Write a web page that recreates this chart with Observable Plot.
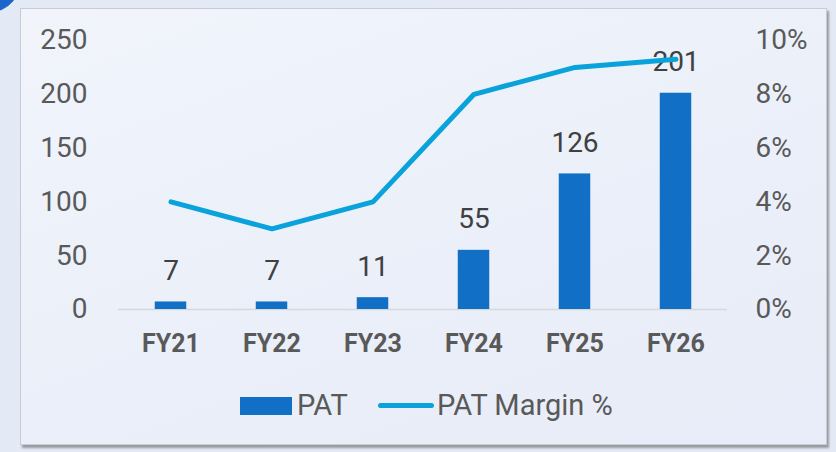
<!DOCTYPE html>
<html>
<head>
<meta charset="utf-8">
<script src="https://cdn.jsdelivr.net/npm/d3@7"></script>
<script src="https://cdn.jsdelivr.net/npm/@observablehq/plot@0.6"></script>
<style>
  html, body { margin: 0; padding: 0; }
  body { width: 836px; height: 452px; overflow: hidden; background: #e4eaf5; position: relative; font-family: Roboto, "Noto Sans", sans-serif; }
  #corner { position: absolute; left: -40px; top: -60px; width: 62px; height: 72px; border-radius: 50%; background: #1a66c9; }
  #box { position: absolute; left: 20px; top: 8px; width: 805px; height: 435px; border: 1px solid #c9ccd2;
         background: linear-gradient(160deg, #f1f4fb 0%, #eaeff9 60%, #e7ecf8 100%);
         box-shadow: 2px 3px 2px rgba(90,90,90,0.55); }
  #chart { position: absolute; left: 0; top: 0; }
  #legend { position: absolute; left: 0; top: 381px; width: 100%; height: 30px; font-size: 29px; color: #595959; }
  .sw { position: absolute; }
  .lt { position: absolute; top: 0; line-height: 30px; white-space: nowrap; }
</style>
</head>
<body>
<div id="corner"></div>
<div id="box">
  <div id="chart"></div>
  <div id="legend">
    <div class="sw" style="left:219px; top:7px; width:52px; height:18px; background:#1170c6;"></div>
    <div class="lt" style="left:276px;">PAT</div>
    <div class="sw" style="left:357px; top:13px; width:56px; height:5px; border-radius:3px; background:#0aa2da;"></div>
    <div class="lt" style="left:416px;">PAT Margin %</div>
  </div>
</div>
<script>
const categories = ["FY21", "FY22", "FY23", "FY24", "FY25", "FY26"];
const pat = [7, 7, 11, 55, 126, 201];
const patMargin = [4.0, 3.0, 4.0, 8.0, 9.0, 9.3];
const leftTicks = [0, 50, 100, 150, 200, 250];
const rightTicks = [0, 2, 4, 6, 8, 10];

const k = 25; // 10% on right axis equals 250 on left axis
const rows = categories.map((c, i) => ({cat: c, pat: pat[i], margin: patMargin[i], mScaled: patMargin[i] * k}));

const chart = Plot.plot({
  width: 805,
  height: 370,
  marginLeft: 97,
  marginRight: 99,
  marginTop: 31,
  marginBottom: 70,
  style: {background: "transparent", fontFamily: "Roboto, 'Noto Sans', sans-serif", overflow: "visible"},
  x: {domain: categories, padding: 0, label: null},
  y: {domain: [0, 250], label: null},
  marks: [
    Plot.axisY({ticks: leftTicks, tickSize: 0, tickPadding: 31, fontSize: 28, fill: "#595959", label: null, anchor: "left"}),
    Plot.axisY({ticks: rightTicks.map(v => v * k), tickSize: 0, tickPadding: 28, fontSize: 28, fill: "#595959",
      tickFormat: d => (d / k) + "%", label: null, anchor: "right", textAnchor: "start"}),
    Plot.axisX({tickSize: 0, tickPadding: 25, fontSize: 25, fontWeight: "bold", fill: "#595959", label: null}),
    Plot.ruleY([0], {stroke: "#d6d8dc", strokeWidth: 1.5}),
    Plot.barY(rows, {x: "cat", y: "pat", fill: "#1170c6", insetLeft: 34.75, insetRight: 34.75}),
    Plot.text(rows, {x: "cat", y: "pat", text: d => String(d.pat), dy: -31, fontSize: 28, fill: "#404040"}),
    Plot.lineY(rows, {x: "cat", y: "mScaled", stroke: "#0aa2da", strokeWidth: 5, strokeLinejoin: "miter", strokeLinecap: "round"})
  ]
});
document.getElementById("chart").appendChild(chart);
</script>
</body>
</html>
